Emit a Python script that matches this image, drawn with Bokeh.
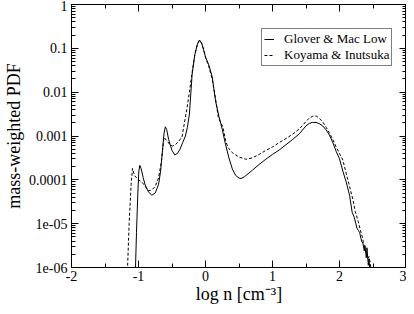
from bokeh.plotting import figure
from bokeh.models import (Range1d, LogAxis, LinearAxis, SingleIntervalTicker, LogTicker,
                          CustomJSTickFormatter, Legend, LegendItem)
from bokeh.embed import file_html
from bokeh.resources import INLINE

# ---- data ----
glover_logn = [-1.05, -1.03, -1.01, -0.995, -0.98, -0.96, -0.93, -0.90, -0.85, -0.80, -0.75,
               -0.70, -0.67, -0.64, -0.62, -0.60, -0.58, -0.55, -0.50, -0.46, -0.42, -0.38,
               -0.34, -0.30, -0.27, -0.24, -0.20, -0.16, -0.12, -0.09, -0.06, -0.03, 0.00,
               0.05, 0.10, 0.15, 0.20, 0.25, 0.30, 0.35, 0.40, 0.45, 0.50, 0.53, 0.58, 0.70,
               0.80, 0.90, 1.00, 1.10, 1.20, 1.30, 1.40, 1.50, 1.55, 1.60, 1.65, 1.70, 1.75,
               1.80, 1.85, 1.90, 1.95, 2.00, 2.05, 2.10, 2.15, 2.19, 2.22, 2.26, 2.28, 2.30,
               2.33, 2.35, 2.37, 2.38, 2.40, 2.41, 2.43, 2.44, 2.46]
glover_log10_pdf = [-6.3, -5.2, -4.3, -3.8, -3.67, -3.75, -3.95, -4.12, -4.28, -4.35, -4.3,
                    -4.1, -3.8, -3.3, -2.95, -2.79, -2.85, -3.08, -3.33, -3.43, -3.4, -3.3,
                    -3.15, -3.0, -2.8, -2.5, -1.6, -1.15, -0.9, -0.81, -0.87, -1.02, -1.2,
                    -1.38, -1.65, -2.2, -2.55, -2.85, -3.2, -3.5, -3.75, -3.9, -3.96, -3.97, -3.93, -3.78,
                    -3.65, -3.53, -3.42, -3.32, -3.2, -3.08, -2.95, -2.77, -2.71, -2.69, -2.69, -2.72, -2.77,
                    -2.86, -2.98, -3.15, -3.35, -3.52, -3.8, -4.05, -4.35, -4.75, -4.85, -5.1, -5.15, -5.2,
                    -5.4, -5.45, -5.62, -5.5, -5.78, -5.55, -5.95, -5.8, -6.2]

koyama_logn = [-1.17, -1.14, -1.11, -1.09, -1.06, -1.00, -0.95, -0.90, -0.85, -0.80, -0.75,
               -0.70, -0.66, -0.62, -0.57, -0.53, -0.49, -0.45, -0.40, -0.35, -0.32, -0.28,
               -0.24, -0.20, -0.16, -0.12, -0.09, -0.06, -0.03, 0.00, 0.05, 0.10, 0.15, 0.19,
               0.26, 0.30, 0.335, 0.40, 0.50, 0.60, 0.70, 0.80, 0.90, 1.00, 1.10, 1.20, 1.30,
               1.40, 1.50, 1.55, 1.60, 1.65, 1.70, 1.75, 1.80, 1.85, 1.90, 1.95, 2.00, 2.05,
               2.10, 2.15, 2.20, 2.235, 2.28, 2.31, 2.34, 2.36, 2.38, 2.40, 2.42, 2.44, 2.46, 2.48]
koyama_log10_pdf = [-6.3, -5.0, -4.1, -3.74, -3.9, -4.0, -4.05, -4.15, -4.25, -4.23, -4.15,
                    -3.95, -3.6, -3.03, -3.12, -3.2, -3.23, -3.2, -3.12, -3.02, -2.75, -2.4,
                    -2.0, -1.55, -1.15, -0.9, -0.82, -0.88, -1.02, -1.2, -1.42, -1.7, -2.15, -2.57,
                    -2.8, -3.1, -3.26, -3.38, -3.48, -3.53, -3.5, -3.42, -3.33, -3.25, -3.15, -3.06, -2.96,
                    -2.84, -2.67, -2.59, -2.55, -2.54, -2.6, -2.68, -2.8, -2.93, -3.08, -3.25, -3.4, -3.55,
                    -3.85, -4.15, -4.45, -4.72, -4.95, -5.14, -5.3, -5.45, -5.6, -5.65, -5.8, -5.75, -5.9, -6.2]

series_names = ["Glover & Mac Low", "Koyama & Inutsuka"]
xtick_values = [-2, -1, 0, 1, 2, 3]
xtick_labels = ["-2", "-1", "0", "1", "2", "3"]
ytick_labels = ["1", "0.1", "0.01", "0.001", "0.0001", "1e-05", "1e-06"]
x_label = "log n [cm\u207b\u00b3]"
y_label = "mass-weighted PDF"

FONT = "'Liberation Serif'"

p = figure(width=406, height=306, output_backend="svg", toolbar_location=None,
           x_range=Range1d(-2, 3), y_range=Range1d(1e-6, 1), y_axis_type="log",
           min_border_left=59, min_border_right=0, min_border_top=4, min_border_bottom=0)
p.title.visible = False
p.grid.visible = False
p.outline_line_color = "black"
p.outline_line_width = 1
p.background_fill_color = "white"
p.border_fill_color = "white"

gy = [10 ** v for v in glover_log10_pdf]
ky = [10 ** v for v in koyama_log10_pdf]
r1 = p.line(glover_logn, gy, line_color="black", line_width=1)
r2 = p.line(koyama_logn, ky, line_color="black", line_width=1, line_dash="3 2")

yfmt = CustomJSTickFormatter(args=dict(labels=ytick_labels),
                             code="const k = Math.round(-Math.log10(tick)); return labels[k];")
xfmt = CustomJSTickFormatter(args=dict(labels=xtick_labels, values=xtick_values),
                             code="const i = values.indexOf(Math.round(tick)); return i >= 0 ? labels[i] : '';")
blank = CustomJSTickFormatter(code="return '';")

def style(ax, show_labels):
    ax.axis_line_color = "black"
    ax.major_tick_in = 7
    ax.major_tick_out = 0
    ax.minor_tick_in = 4
    ax.minor_tick_out = 0
    ax.major_tick_line_color = "black"
    ax.minor_tick_line_color = "black"
    ax.major_label_text_font = FONT
    ax.major_label_text_color = "black"
    ax.axis_label_text_font = FONT
    ax.axis_label_text_font_style = "normal"
    ax.axis_label_text_color = "black"
    if show_labels:
        ax.major_label_text_font_size = "14px"
        ax.axis_label_text_font_size = "18px"
    else:
        ax.formatter = blank
        ax.major_label_text_font_size = "1px"
        ax.major_label_standoff = 0
        ax.axis_label_standoff = 0
        ax.axis_label = None

xa = p.xaxis[0]
xa.ticker = SingleIntervalTicker(interval=1, num_minor_ticks=2)
xa.formatter = xfmt
style(xa, True)
xa.major_label_standoff = 3
xa.axis_label = x_label
xa.axis_label_standoff = 0

ya = p.yaxis[0]
ya.ticker = LogTicker(num_minor_ticks=10)
ya.formatter = yfmt
style(ya, True)
ya.major_label_standoff = 4
ya.axis_label = y_label
ya.axis_label_standoff = 2

# mirrored tick marks on the top and right edges of the frame (no labels)
top = LinearAxis(ticker=SingleIntervalTicker(interval=1, num_minor_ticks=2), fixed_location=1)
style(top, False)
p.add_layout(top, "above")
right = LogAxis(ticker=LogTicker(num_minor_ticks=10), fixed_location=3)
style(right, False)
p.add_layout(right, "right")

legend = Legend(items=[LegendItem(label=series_names[0], renderers=[r1]),
                       LegendItem(label=series_names[1], renderers=[r2])],
                location=(190, 201))
legend.label_text_font = FONT
legend.label_text_font_size = "13px"
legend.label_text_color = "black"
legend.glyph_width = 10
legend.glyph_height = 12
legend.label_height = 12
legend.label_standoff = 10
legend.padding = 2
legend.spacing = 0
legend.margin = 0
legend.border_line_color = "black"
legend.border_line_width = 1
legend.background_fill_alpha = 1
p.add_layout(legend)

open("out.html", "w").write(file_html(p, INLINE))
